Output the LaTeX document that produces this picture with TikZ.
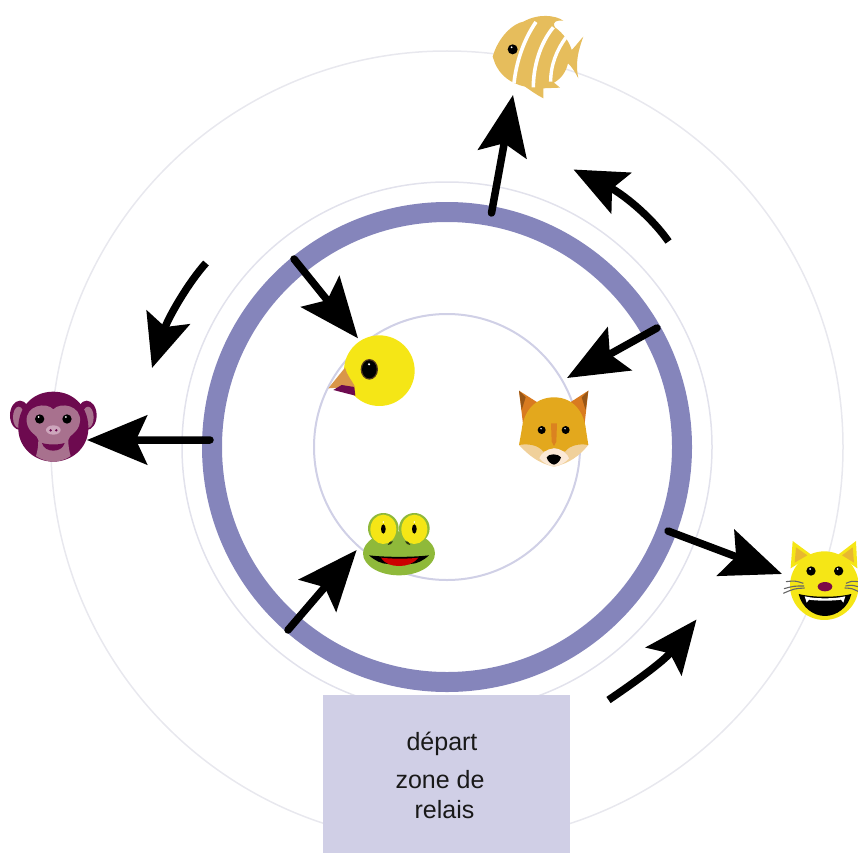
\documentclass[tikz,border=0pt]{standalone}
\usepackage{fontspec}
\setmainfont{Liberation Sans}
\usetikzlibrary{arrows.meta}
\definecolor{ringblue}{HTML}{8585BB}
\definecolor{boxlav}{HTML}{D0CFE6}
\definecolor{ringa}{HTML}{E8E8EE}
\definecolor{ringb}{HTML}{E2E2EC}
\definecolor{ringc}{HTML}{D0D0E6}
\definecolor{yel}{HTML}{F5E616}
\definecolor{plum}{HTML}{6D0A4F}
\definecolor{mauve}{HTML}{A8718E}
\definecolor{nosepink}{HTML}{CDA6BC}
\definecolor{gold}{HTML}{E6BD5C}
\definecolor{beak}{HTML}{D9964A}
\definecolor{foxg}{HTML}{E3A81D}
\definecolor{foxo}{HTML}{D97B20}
\definecolor{cream}{HTML}{F0D09A}
\definecolor{snout}{HTML}{FBE9D6}
\definecolor{frogg}{HTML}{8FB93A}
\definecolor{catear}{HTML}{E8B830}
\tikzset{
  bigarrow/.style={line width=7.5pt,line cap=round,-{Stealth[length=60pt,width=49pt,inset=11pt]},black},
  bigcurve/.style={line width=7.5pt,-{Stealth[length=53pt,width=45pt,inset=10pt]},black},
  whisker/.style={black!60,line width=1.1pt},
  txt/.style={inner sep=0pt,anchor=base,font=\fontsize{25}{25}\selectfont,text=black!90},
  zoomed/.style={x=.3333pt,y=-.3333pt},
}
\begin{document}
\begin{tikzpicture}[x=1pt,y=-1pt]
\useasboundingbox (0,0) rectangle (858,853);
\coordinate (c) at (447,447);
\draw[ringa,line width=1.5pt] (c) circle[radius=396];
\draw[ringb,line width=1.5pt] (c) circle[radius=265];
\draw[ringc,line width=2pt] (c) circle[radius=133];
\draw[ringblue,line width=20pt] (c) circle[radius=235];
\fill[boxlav] (323,695) rectangle (570,853);
\node[txt] (dep) at (442,750) {départ};
\node[txt] (zone) at (440,788) {zone de};
\node[txt] (rel) at (444.5,818) {relais};

% fish
\begin{scope}[shift={(480,0)},zoomed]
\fill[gold] (38,170) .. controls (55,110) and (100,70) .. (130,65) .. controls (175,40) and (225,45) .. (250,62) .. controls (230,60) and (215,65) .. (225,82) .. controls (250,100) and (268,125) .. (275,150) .. controls (290,135) and (300,120) .. (310,110) .. controls (295,150) and (285,190) .. (295,235) .. controls (285,215) and (275,200) .. (264,190) .. controls (258,215) and (245,235) .. (222,248) -- (240,263) -- (190,265) -- (190,295) .. controls (170,285) and (150,270) .. (135,260) .. controls (90,250) and (60,225) .. (45,190) -- cycle;
\draw[white,line width=3.6pt] (168,66) .. controls (130,120) and (108,190) .. (102,250);
\draw[white,line width=3.6pt] (220,82) .. controls (180,130) and (160,200) .. (160,262);
\draw[white,line width=3.4pt] (258,112) .. controls (230,150) and (212,195) .. (212,245);
\fill[black] (98,148) circle[radius=15];
\fill[white] (95,142) circle[radius=3];
\coordinate (fish) at (99,285);
\end{scope}

% monkey
\begin{scope}[shift={(0,380)},zoomed]
\fill[plum] (60,106) ellipse[x radius=30,y radius=44];
\fill[plum] (260,106) ellipse[x radius=30,y radius=44];
\fill[mauve] (56,112) ellipse[x radius=17,y radius=32];
\fill[mauve] (264,112) ellipse[x radius=17,y radius=32];
\fill[plum] (160,35) .. controls (225,35) and (268,85) .. (265,150) .. controls (262,205) and (215,245) .. (160,245) .. controls (105,245) and (58,205) .. (55,150) .. controls (52,85) and (95,35) .. (160,35) -- cycle;
\fill[mauve] (160,88) .. controls (180,65) and (245,75) .. (240,125) .. controls (236,160) and (205,165) .. (205,180) .. controls (205,200) and (208,215) .. (212,228) .. controls (195,240) and (175,245) .. (160,245) .. controls (145,245) and (125,240) .. (108,228) .. controls (112,215) and (115,200) .. (115,180) .. controls (115,165) and (84,160) .. (80,125) .. controls (75,75) and (140,65) .. (160,88) -- cycle;
\fill[black] (119,117) circle[radius=14];
\fill[black] (201,117) circle[radius=14];
\fill[white] (116,111) circle[radius=3];
\fill[white] (198,111) circle[radius=3];
\fill[nosepink] (160,150) ellipse[x radius=22,y radius=14];
\fill[plum] (152,151) circle[radius=4];
\fill[plum] (169,151) circle[radius=4];
\fill[plum] (126,189) .. controls (145,195) and (175,195) .. (194,189) .. controls (190,205) and (175,212) .. (160,212) .. controls (145,212) and (130,205) .. (126,189) -- cycle;
\coordinate (monkey) at (261,180);
\end{scope}

% chick
\begin{scope}[shift={(320,325)},zoomed]
\fill[yel] (178,137) circle[radius=106];
\fill[beak] (75,128) -- (25,190) -- (105,185) .. controls (95,165) and (80,150) .. (75,128) -- cycle;
\fill[plum] (40,195) -- (65,180) -- (103,186) -- (106,212) -- cycle;
\fill[black!60!beak] (148,133) ellipse[x radius=26,y radius=31];
\fill[black] (148,133) ellipse[x radius=22,y radius=27];
\fill[white] (147,118) circle[radius=3.5];
\coordinate (chick) at (114,40);
\end{scope}

% fox
\begin{scope}[shift={(505,380)},zoomed]
\fill[foxo] (42,32) -- (105,72) -- (55,140) -- cycle;
\fill[foxo] (250,32) -- (188,72) -- (238,140) -- cycle;
\fill[black!30!foxo] (42,32) -- (62,52) -- (50,90) -- cycle;
\fill[black!30!foxo] (250,32) -- (230,52) -- (242,90) -- cycle;
\fill[cream] (42,195) -- (150,150) -- (250,195) .. controls (225,225) and (195,250) .. (147,260) .. controls (100,250) and (70,225) .. (42,195) -- cycle;
\fill[foxg] (147,52) .. controls (85,52) and (55,100) .. (50,150) -- (42,195) .. controls (70,190) and (100,195) .. (115,215) -- (147,205) -- (180,215) .. controls (195,195) and (225,190) .. (250,195) -- (243,150) .. controls (238,100) and (208,52) .. (147,52) -- cycle;
\fill[snout] (147,205) .. controls (125,205) and (105,225) .. (103,235) .. controls (115,250) and (135,258) .. (147,260) .. controls (160,258) and (180,250) .. (192,235) .. controls (190,225) and (170,205) .. (147,205) -- cycle;
\fill[foxo!85!foxg] (138,130) -- (156,130) -- (154,185) -- (147,198) -- (140,185) -- cycle;
\fill[black] (110,150) circle[radius=12];
\fill[black] (182,150) circle[radius=12];
\fill[white] (108,146) circle[radius=2.5];
\fill[white] (180,146) circle[radius=2.5];
\fill[black] (125,232) .. controls (130,220) and (160,220) .. (168,232) .. controls (165,245) and (155,252) .. (147,254) .. controls (138,252) and (128,245) .. (125,232) -- cycle;
\coordinate (fox) at (186,-6);
\end{scope}

% frog
\begin{scope}[shift={(355,500)},zoomed]
\fill[frogg] (132,160) ellipse[x radius=108,y radius=66];
\fill[frogg] (85,85) circle[radius=46];
\fill[frogg] (178,85) circle[radius=46];
\fill[yel] (85,88) ellipse[x radius=39,y radius=44];
\fill[yel] (178,88) ellipse[x radius=39,y radius=44];
\fill[black] (85,87) ellipse[x radius=7,y radius=14];
\fill[black] (178,87) ellipse[x radius=7,y radius=14];
\fill[white] (85,66) circle[radius=2.5];
\fill[white] (178,66) circle[radius=2.5];
\fill[black!70!frogg] (98,135) .. controls (102,125) and (110,122) .. (114,124) .. controls (112,130) and (105,136) .. (98,135) -- cycle;
\fill[black!70!frogg] (166,135) .. controls (162,125) and (154,122) .. (150,124) .. controls (152,130) and (159,136) .. (166,135) -- cycle;
\fill[black] (42,166) .. controls (90,172) and (175,172) .. (222,166) .. controls (205,182) and (185,192) .. (165,192) -- (100,192) .. controls (80,192) and (60,182) .. (42,166) -- cycle;
\fill[red!80!black] (78,173) .. controls (110,177) and (160,177) .. (190,173) .. controls (175,192) and (155,198) .. (132,198) .. controls (110,198) and (90,192) .. (78,173) -- cycle;
\coordinate (frog) at (5,150);
\end{scope}

% cat
\begin{scope}[shift={(770,530)},zoomed]
\fill[yel] (68,33) -- (125,75) -- (62,115) -- cycle;
\fill[yel] (258,33) -- (203,75) -- (262,115) -- cycle;
\fill[catear] (78,52) -- (112,76) -- (74,98) -- cycle;
\fill[catear] (248,52) -- (216,76) -- (252,98) -- cycle;
\fill[yel] (163,167) circle[radius=103];
\fill[black] (123,123) circle[radius=14];
\fill[black] (206,123) circle[radius=14];
\fill[white] (120,117) circle[radius=3];
\fill[white] (203,117) circle[radius=3];
\fill[plum!90!red] (165,170) ellipse[x radius=22,y radius=14];
\draw[whisker] (100,160) .. controls (75,152) .. (48,155);
\draw[whisker] (102,168) .. controls (72,168) .. (42,176);
\draw[whisker] (104,174) .. controls (72,176) .. (40,190);
\draw[whisker] (228,160) .. controls (245,153) .. (264,155);
\draw[whisker] (226,168) .. controls (245,165) .. (264,170);
\draw[whisker] (224,174) .. controls (245,175) .. (264,184);
\fill[black] (86,192) .. controls (130,203) and (200,203) .. (244,192) .. controls (235,232) and (200,258) .. (165,258) .. controls (130,258) and (95,232) .. (86,192) -- cycle;
\fill[white] (104,199) .. controls (140,207) and (190,207) .. (226,199) -- (220,218) -- (213,209) .. controls (190,213) and (140,213) .. (117,209) -- (110,218) -- cycle;
\coordinate (cat) at (36,132);
\end{scope}

% arrows
\coordinate (s1) at (491.5,213);
\coordinate (s2) at (294,259);
\coordinate (s3) at (657,328);
\coordinate (s4) at (288,630);
\coordinate (s5) at (210,440);
\coordinate (s6) at (668,531);
\draw[bigarrow] (s1) -- (fish);
\draw[bigarrow] (s2) -- (chick);
\draw[bigarrow] (s3) -- (fox);
\draw[bigarrow] (s4) -- (frog);
\draw[bigarrow] (s5) -- (monkey);
\draw[bigarrow] (s6) -- (cat);
\coordinate (a1) at (668.5,241.5); \coordinate (b1) at (573.5,169.5);
\coordinate (a2) at (206,263); \coordinate (b2) at (152,368);
\coordinate (a3) at (608.5,700); \coordinate (b3) at (696.5,619.5);
\draw[bigcurve] (a1) .. controls (650,215) and (621,193) .. (b1);
\draw[bigcurve] (a2) .. controls (188,283) and (168,318) .. (b2);
\draw[bigcurve] (a3) .. controls (635,682) and (664,661) .. (b3);
\end{tikzpicture}
\end{document}
